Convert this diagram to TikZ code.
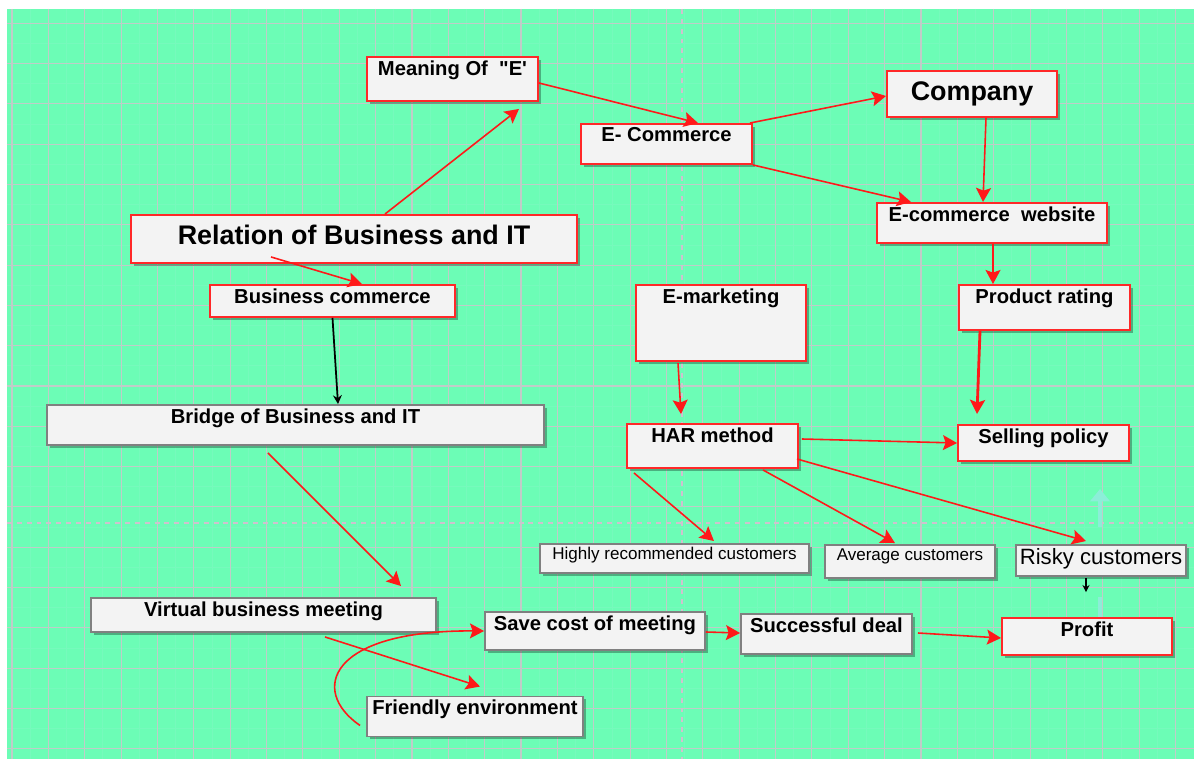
\documentclass[tikz,border=0pt]{standalone}
\usepackage{fontspec}
\setmainfont{Liberation Sans}
\usetikzlibrary{arrows.meta,calc,shadows}

\definecolor{mint}{RGB}{108,253,182}
\definecolor{gridc}{RGB}{192,204,200}
\definecolor{gridm}{RGB}{118,250,188}
\definecolor{brk}{RGB}{206,194,206}
\definecolor{boxfill}{RGB}{243,243,243}
\definecolor{boxred}{RGB}{255,40,40}
\definecolor{boxgrey}{RGB}{128,128,128}
\definecolor{linkred}{RGB}{255,25,25}
\definecolor{ghost}{RGB}{140,238,216}

\tikzset{
  sz/.style 2 args={minimum width=#1*0.02cm, minimum height=#2*0.02cm},
  rbox/.style={draw=boxred, line width=1.1pt, fill=boxfill, inner sep=0pt,
    drop shadow={shadow xshift=1.7pt, shadow yshift=-1.7pt, fill=black, opacity=.3}},
  gbox/.style={rbox, draw=boxgrey},
  lbl/.style={anchor=north, inner sep=0pt, yshift=-2.3pt, font=\fontsize{11.5}{13}\selectfont\bfseries},
  lblbig/.style={lbl, yshift=-4pt, font=\fontsize{15.3}{17}\selectfont\bfseries},
  lblsm/.style={lbl, font=\fontsize{9.7}{11}\selectfont},
  lblrisk/.style={lbl, font=\fontsize{12.6}{14}\selectfont},
  link/.style={draw=linkred, line width=0.9pt, -{Stealth[length=8pt, width=8.5pt, inset=1.5pt]}},
  blink/.style={draw=black, line width=1pt, -{Stealth[length=5pt, width=5pt]}},
}

\begin{document}
\begin{tikzpicture}[x=0.02cm, y=-0.02cm]
    \useasboundingbox (0,0) rectangle (1194,759);
    % background and grid
    \fill[mint] (7,9) rectangle (1194,759);
    \foreach \k in {0,...,31} \draw[gridm, line width=0.5pt] ({30.18+36.36*\k},9) -- ({30.18+36.36*\k},759);
    \foreach \k in {0,...,17} \draw[gridm, line width=0.5pt] (7,{43.45+40.3*\k}) -- (1194,{43.45+40.3*\k});
    \foreach \k in {0,...,32} \draw[gridc, line width=0.65pt] ({12+36.36*\k},9) -- ({12+36.36*\k},759);
    \foreach \k in {0,...,18} \draw[gridc, line width=0.65pt] (7,{23.3+40.3*\k}) -- (1194,{23.3+40.3*\k});
    % page breaks
    \draw[brk, line width=1pt, dash pattern=on 2.8pt off 2.8pt] (682,9) -- (682,759);
    \draw[brk, line width=1pt, dash pattern=on 2.8pt off 2.8pt] (7,523) -- (1194,523);

    % boxes
    \node[rbox, sz={171}{44}, label={[lbl]north:Meaning Of\ \ \textquotedbl E\textquotesingle}] (mean) at (452.5,79) {};
    \node[rbox, sz={170}{46}, label={[lblbig]north:Company}] (comp) at (972,94) {};
    \node[rbox, sz={171}{40}, label={[lbl]north:E- Commerce}] (ecom) at (666.5,144) {};
    \node[rbox, sz={230}{40}, label={[lbl]north:E-commerce\ \ website}] (web) at (992,223) {};
    \node[rbox, sz={446}{48}, label={[lblbig]north:Relation of Business and IT}] (rel) at (354,239) {};
    \node[rbox, sz={245}{32}, label={[lbl]north:Business commerce}] (bcom) at (332.5,301) {};
    \node[rbox, sz={170}{76}, label={[lbl]north:E-marketing}] (emkt) at (721,323) {};
    \node[rbox, sz={171}{45}, label={[lbl]north:Product rating}] (prate) at (1044.5,307.5) {};
    \node[gbox, sz={497}{40}, label={[lbl]north:Bridge of Business and IT}] (bridge) at (295.5,425) {};
    \node[rbox, sz={171}{44}, label={[lbl]north:HAR method}] (har) at (712.5,446) {};
    \node[rbox, sz={171}{36}, label={[lbl]north:Selling policy}] (sell) at (1043.5,443) {};
    \node[gbox, sz={269}{29}, label={[lblsm]north:Highly recommended customers}] (high) at (674.5,558.5) {};
    \node[gbox, sz={170}{33}, label={[lblsm]north:Average customers}] (avg) at (910,561.5) {};
    \node[gbox, sz={170}{31}, label={[lblrisk]north:Risky customers}] (risky) at (1101,560.5) {};
    \node[rbox, sz={170}{37}, label={[lbl]north:Profit}] (profit) at (1087,636.5) {};
    \node[gbox, sz={345}{34}, label={[lbl]north:Virtual business meeting}] (virt) at (263.5,615) {};
    \node[gbox, sz={220}{38}, label={[lbl]north:Save cost of meeting}] (save) at (595,631) {};
    \node[gbox, sz={171}{40}, label={[lbl]north:Successful deal}] (succ) at (826.5,634) {};
    \node[gbox, sz={216}{40}, label={[lbl]north:Friendly environment}] (friend) at (475,716.5) {};

    % faint leftovers near risky customers
    \draw[ghost, line width=2.2pt, -{Triangle[length=7pt, width=11pt]}] ($(risky.north)+(-1,-17)$) -- ($(risky.north)+(-1,-55)$);
    \draw[ghost, line width=2.2pt] ($(risky.south)+(-1,20)$) -- ($(profit.north)+(13,0)$);

    % links
    \draw[link] ($(rel.north)+(31,0)$) -- ($(mean.south)+(66.5,7)$);
    \draw[link] ($(mean.east)+(0,4)$) -- ($(ecom.north)+(31.5,0)$);
    \draw[link] ($(ecom.north east)+(-3,0)$) -- ($(comp.west)+(0,2)$);
    \draw[link] (ecom.south east) -- ($(web.north)+(-81,0)$);
    \draw[link] ($(comp.south)+(14,0)$) -- ($(web.north)+(-9,0)$);
    \draw[link] ($(web.south)+(1,0)$) -- ($(prate.north)+(-51.5,0)$);
    \draw[link] ($(rel.south)+(-83,-7)$) -- ($(bcom.north)+(29.5,0)$);
    \draw[blink] (bcom.south) -- ($(bridge.north)+(42.5,0)$);
    \draw[link] ($(bridge.south)+(-27.5,7)$) -- ($(virt.north)+(137.5,-11)$);
    \draw[link] ($(virt.south)+(61.5,4)$) -- ($(friend.north)+(5,-9)$);
    \draw[link] ($(friend.west)+(-6,9)$) .. controls +(-51,-35) and +(-155,-1) .. (save.west);
    \draw[link] ($(save.east)+(0,1)$) -- ($(succ.west)+(0,-1)$);
    \draw[link] ($(succ.east)+(5,-1)$) -- ($(profit.west)+(0,1.5)$);
    \draw[link] ($(emkt.south)+(-43,1)$) -- ($(har.north)+(-31.5,-9)$);
    \draw[link, line width=1.6pt] ($(prate.south)+(-64.5,0)$) -- ($(sell.north)+(-66.5,-10)$);
    \draw[link] ($(har.east)+(3,-7)$) -- (sell.west);
    \draw[link] ($(har.south)+(-78.5,4)$) -- ($(high.north)+(39.5,-2)$);
    \draw[link] ($(har.south)+(50.5,1)$) -- ($(avg.north)+(-15,-1)$);
    \draw[link] ($(har.east)+(-2,13)$) -- ($(risky.north)+(-15,-3)$);
    \draw[blink, line width=0.6pt, -{Stealth[length=4pt, width=4pt]}] ($(risky.south)+(-15,1)$) -- ($(profit.north)+(-1,-25)$);
\end{tikzpicture}
\end{document}
